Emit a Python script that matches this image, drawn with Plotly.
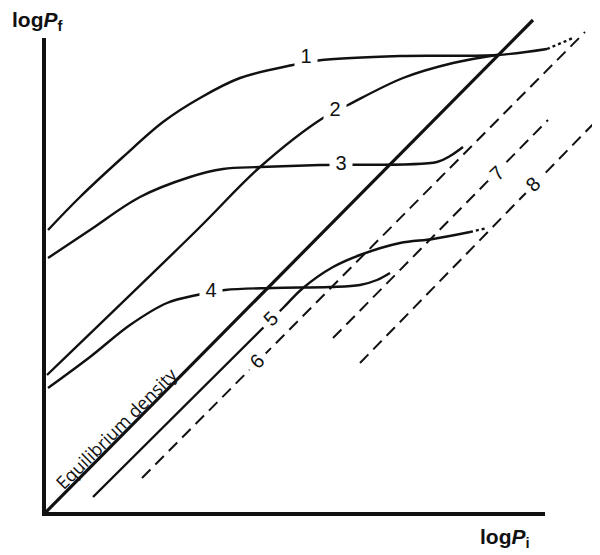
import plotly.graph_objects as go

# ---- data (schematic log-log units) ----
curve1_x = [0.08, 0.72, 1.58, 2.38, 3.12, 3.92, 4.98, 5.56, 7.12, 9.06, 10.06]
curve1_y = [5.68, 6.34, 7.14, 7.84, 8.32, 8.72, 8.98, 9.08, 9.16, 9.18, 9.30]
curve1_tail_x = [10.06, 10.58]
curve1_tail_y = [9.30, 9.52]

curve2_x = [0.06, 3.06, 4.32, 5.58, 6.08, 7.18, 8.18, 9.06]
curve2_y = [2.78, 5.68, 6.94, 7.92, 8.18, 8.72, 9.02, 9.18]

curve3_x = [0.08, 0.92, 1.92, 2.92, 3.58, 4.32, 5.52, 7.86, 8.12, 8.38]
curve3_y = [5.12, 5.68, 6.34, 6.74, 6.90, 6.94, 6.98, 7.04, 7.16, 7.34]

curve4_x = [0.08, 0.92, 1.72, 2.46, 3.06, 3.62, 4.58, 5.72, 6.32, 6.66, 6.92]
curve4_y = [2.52, 3.14, 3.78, 4.22, 4.38, 4.48, 4.52, 4.54, 4.58, 4.68, 4.82]

curve5_x = [0.98, 4.78, 5.18, 5.78, 6.32, 7.12, 7.78, 8.52]
curve5_y = [0.34, 4.12, 4.52, 4.94, 5.18, 5.42, 5.50, 5.64]
curve5_tail_x = [8.52, 8.86]
curve5_tail_y = [5.64, 5.72]

equil_x = [0.0, 9.78]
equil_y = [0.0, 9.88]

line6_x = [1.96, 10.82]
line6_y = [0.72, 9.64]
line7_x = [5.78, 10.08]
line7_y = [3.52, 7.88]
line8_x = [6.32, 11.12]
line8_y = [3.02, 7.94]

label_text = ["1", "2", "3", "4", "5", "6", "7", "8"]
label_x = [5.24, 5.82, 5.94, 3.34, 4.53, 4.26, 9.06, 9.78]
label_y = [9.16, 8.10, 7.02, 4.48, 3.90, 3.06, 6.82, 6.60]
label_angle = [0, 0, 0, 0, -45, -45, -45, -45]

INK = "#111111"
fig = go.Figure()

def add_line(x, y, width=2.4, dash="solid", shape="spline"):
    fig.add_trace(go.Scatter(x=x, y=y, mode="lines", hoverinfo="skip",
                             line=dict(color=INK, width=width, dash=dash,
                                       shape=shape, smoothing=1.0)))

add_line(curve1_x, curve1_y)
add_line(curve1_tail_x, curve1_tail_y, width=2.4, dash="dot", shape="linear")
add_line(curve2_x, curve2_y)
add_line(curve3_x, curve3_y)
add_line(curve4_x, curve4_y)
add_line(curve5_x, curve5_y)
add_line(curve5_tail_x, curve5_tail_y, width=2.4, dash="dot", shape="linear")
add_line(equil_x, equil_y, width=3.2, shape="linear")
for lx, ly in [(line6_x, line6_y), (line7_x, line7_y), (line8_x, line8_y)]:
    add_line(lx, ly, width=2.0, dash="12px,7px", shape="linear")

# axes drawn as shapes (axis lines of the schematic)
fig.add_shape(type="line", xref="x", yref="y", x0=0, x1=0, y0=-0.04, y1=9.52,
              line=dict(color=INK, width=4))
fig.add_shape(type="line", xref="x", yref="y", x0=-0.04, x1=10.02, y0=0, y1=0,
              line=dict(color=INK, width=4))

for t, x, y, a in zip(label_text, label_x, label_y, label_angle):
    fig.add_annotation(x=x, y=y, xref="x", yref="y", text=t, showarrow=False,
                       textangle=a, bgcolor="white", width=20, height=22,
                       font=dict(family="Liberation Sans", size=20, color=INK))

fig.add_annotation(x=1.45, y=1.72, xref="x", yref="y", text="Equilibrium density",
                   showarrow=False, textangle=-45,
                   font=dict(family="Open Sans", size=18, color=INK))

fig.add_annotation(x=-0.0424, y=0.988, xref="paper", yref="paper",
                   xanchor="left", yanchor="middle", showarrow=False,
                   text="<b>log<i>P</i><sub>f</sub></b>",
                   font=dict(family="Liberation Sans", size=21, color=INK))
fig.add_annotation(x=0.784, y=-0.0275, xref="paper", yref="paper",
                   xanchor="left", yanchor="middle", showarrow=False,
                   text="<b>log<i>P</i><sub>i</sub></b>",
                   font=dict(family="Liberation Sans", size=21, color=INK))

# page body has an 8px margin: shrink the figure so it fits the 600x555 window
fig.update_layout(
    width=592, height=547,
    margin=dict(l=26, r=0, t=7, b=31),
    paper_bgcolor="white", plot_bgcolor="white",
    showlegend=False,
    xaxis=dict(range=[-0.2, 11.12], visible=False, fixedrange=True),
    yaxis=dict(range=[-0.2, 9.98], visible=False, fixedrange=True),
)

fig.write_html("out.html")
